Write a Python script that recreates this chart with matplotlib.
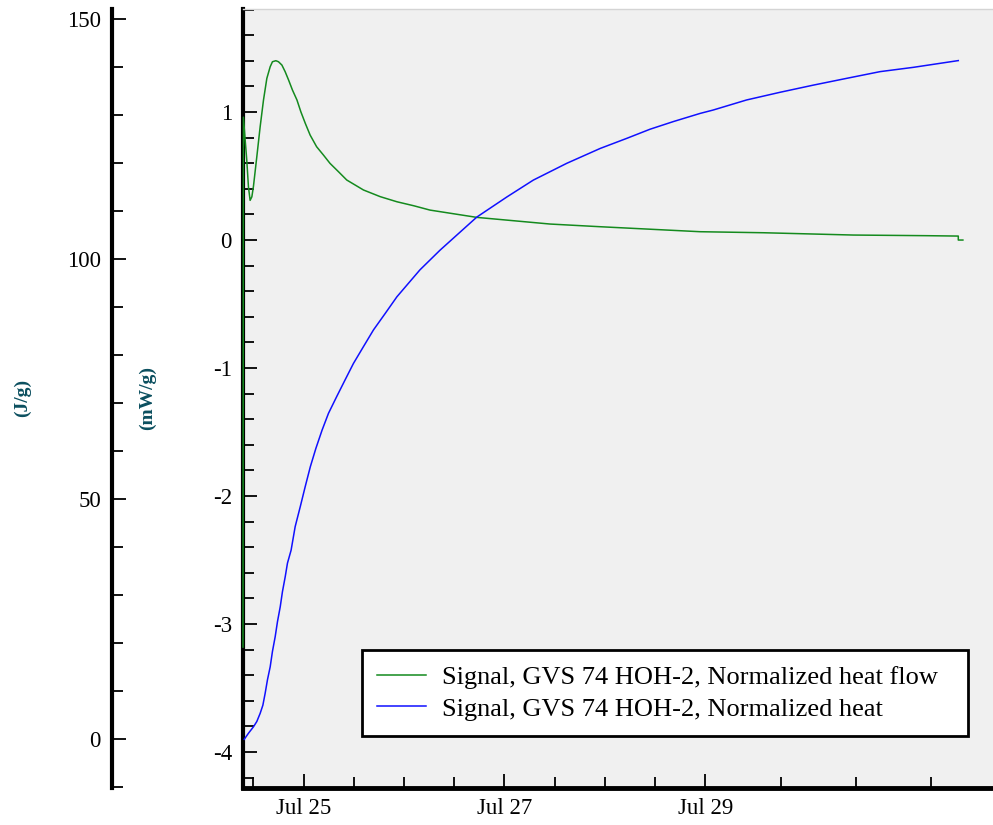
import matplotlib
matplotlib.use("Agg")
import matplotlib.pyplot as plt
import matplotlib.dates as mdates
from matplotlib.ticker import MultipleLocator, FixedLocator
import pandas as pd

plt.rcParams["font.family"] = ["Liberation Serif", "DejaVu Serif"]
plt.rcParams["axes.unicode_minus"] = False

start = pd.Timestamp("2021-07-24 09:30")

# heat flow (mW/g), hours since start
flow_hours = [0.0, 0.1, 0.52, 0.9, 1.3, 1.7, 2.12, 2.5, 3.3, 4.1,
              4.9, 5.7, 6.5, 7.04, 7.85, 8.48, 9.3, 10.08, 10.9, 11.82,
              12.9, 13.83, 14.9, 16.05, 17.6, 19.23, 20.8, 22.82, 24.8, 28.8,
              32.8, 36.8, 40.8, 44.7, 55.9, 73.4, 85.4, 109.3, 124.4, 145.9,
              163.5, 171.0, 171.0, 172.1]
flow_vals = [-3.18, 0.96, 0.781, 0.625, 0.416, 0.31, 0.338, 0.42, 0.65, 0.885,
             1.094, 1.263, 1.354, 1.393, 1.401, 1.393, 1.367, 1.315, 1.25, 1.172,
             1.094, 1.002, 0.911, 0.820, 0.729, 0.664, 0.599, 0.534, 0.469, 0.391,
             0.339, 0.299, 0.268, 0.234, 0.177, 0.125, 0.104, 0.065, 0.057, 0.039,
             0.034, 0.031, 0.0, 0.0]

# normalized heat (J/g), hours since start
heat_hours = [0.3, 1.3, 2.5, 3.3, 4.1, 4.75, 5.3, 5.85, 6.5, 7.04,
              7.7, 8.24, 8.9, 9.43, 10.1, 10.63, 11.5, 12.47, 13.7, 14.86,
              16.1, 17.42, 18.9, 20.43, 22.4, 24.42, 26.4, 28.79, 31.2, 33.98,
              36.8, 39.55, 42.3, 47.1, 55.9, 63.1, 69.4, 77.4, 85.4, 91.75,
              97.3, 102.9, 109.3, 112.4, 120.4, 128.4, 136.4, 144.3, 152.3, 160.3,
              171.0]
heat_vals = [0.0, 1.25, 2.6, 3.7, 5.4, 7.1, 9.6, 12.4, 15.1, 18.3,
             21.4, 24.5, 27.6, 30.75, 33.9, 36.7, 39.4, 44.3, 48.5, 52.6,
             56.8, 60.6, 64.4, 67.9, 71.4, 74.9, 78.3, 81.8, 85.3, 88.7,
             92.2, 95.0, 97.8, 101.9, 108.8, 113.0, 116.5, 120.0, 123.1, 125.2,
             127.1, 128.7, 130.4, 131.1, 133.2, 134.8, 136.3, 137.7, 139.1, 140.0,
             141.4]

major_days = ["2021-07-25", "2021-07-27", "2021-07-29"]
minor_days = ["2021-07-24 12:00", "2021-07-25 12:00", "2021-07-26 00:00",
              "2021-07-26 12:00", "2021-07-27 12:00", "2021-07-28 00:00",
              "2021-07-28 12:00", "2021-07-29 18:00", "2021-07-30 12:00",
              "2021-07-31 06:00"]

flow_t = start + pd.to_timedelta(flow_hours, unit="h")
heat_t = start + pd.to_timedelta(heat_hours, unit="h")

W, H = 993, 825
fig = plt.figure(figsize=(W / 100, H / 100), dpi=100)
ax = fig.add_axes([243 / W, 37 / H, 750 / W, 779 / H])
ax2 = ax.twinx()

ax.set_facecolor("#f0f0f0")
l1, = ax.plot(flow_t, flow_vals, color="#148a1e", lw=1.1, zorder=3, clip_on=False,
              label="Signal, GVS 74 HOH-2, Normalized heat flow")
l2, = ax2.plot(heat_t, heat_vals, color="#1010ff", lw=1.1,
               label="Signal, GVS 74 HOH-2, Normalized heat")

ax.set_xlim(start, start + pd.Timedelta(hours=179.3))
ax.set_ylim(-4.281, 1.805)
ax2.set_ylim(-10.15, 152.15)

# spines
ax.spines["right"].set_visible(False)
ax.spines["top"].set_color("#d4d4d4")
ax.spines["top"].set_linewidth(1)
ax.spines["left"].set_linewidth(3)
ax.spines["bottom"].set_linewidth(3.5)
for s in ["right", "top", "bottom"]:
    ax2.spines[s].set_visible(False)
ax2.spines["left"].set_visible(True)
ax2.spines["left"].set_position(("axes", -131 / 750))
ax2.spines["left"].set_linewidth(3)
ax2.yaxis.set_ticks_position("left")
ax2.yaxis.set_label_position("left")

# ticks
ax.xaxis.set_major_locator(FixedLocator(mdates.date2num(pd.to_datetime(major_days))))
ax.xaxis.set_minor_locator(FixedLocator(mdates.date2num(pd.to_datetime(minor_days))))
ax.xaxis.set_major_formatter(mdates.DateFormatter("%b %d"))
ax.yaxis.set_major_locator(MultipleLocator(1))
ax.yaxis.set_minor_locator(MultipleLocator(0.2))
ax2.yaxis.set_major_locator(MultipleLocator(50))
ax2.yaxis.set_minor_locator(MultipleLocator(10))

for a in (ax, ax2):
    a.tick_params(which="major", direction="in", length=10, width=1.3,
                  labelsize=16.5, pad=8)
    a.tick_params(which="minor", direction="in", length=7.7, width=1.3)
ax.tick_params(axis="x", which="major", pad=7)
ax.tick_params(right=False, top=False, which="both")

fig.text(22 / W, 1 - 398 / H, "(J/g)", rotation=90, ha="center", va="center",
         fontsize=14, fontweight="bold", color="#0b4f5f")
fig.text(147 / W, 1 - 398 / H, "(mW/g)", rotation=90, ha="center", va="center",
         fontsize=14, fontweight="bold", color="#0b4f5f")

leg = ax2.legend(handles=[l1, l2], loc="lower left", mode="expand",
                 bbox_to_anchor=((362 - 243) / 750, (788 - 736) / 779,
                                 (968 - 362) / 750, 0.1),
                 fontsize=19, fancybox=False, framealpha=1, edgecolor="black",
                 handlelength=1.85, handletextpad=0.6, borderpad=0.58,
                 labelspacing=0.31, borderaxespad=0)
leg.get_frame().set_linewidth(2)

fig.savefig("out.png", dpi=100)
